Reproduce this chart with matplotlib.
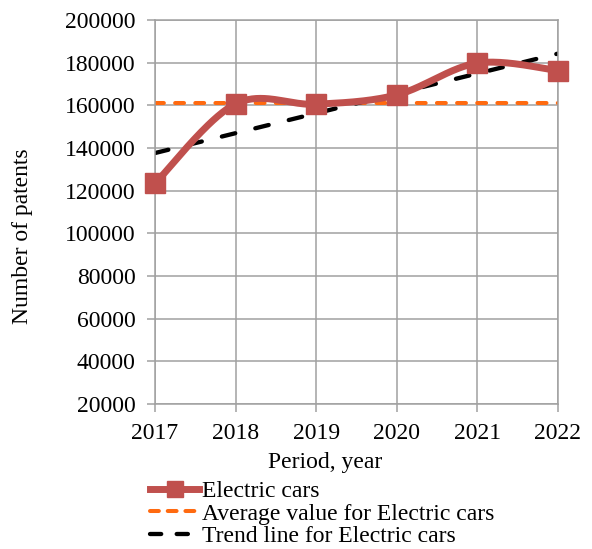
import numpy as np
import matplotlib
matplotlib.use('Agg')
import matplotlib.pyplot as plt
from matplotlib.lines import Line2D

plt.rcParams['font.family'] = ['Liberation Serif', 'DejaVu Serif']

# data
years = [2017, 2018, 2019, 2020, 2021, 2022]
patents = [123400, 160700, 160500, 164900, 179800, 176300]
labels = ['Electric cars', 'Average value for Electric cars', 'Trend line for Electric cars']

x = np.array(years, dtype=float)
y = np.array(patents, dtype=float)

# average and linear trend
avg = y.mean()
k, b = np.polyfit(x, y, 1)

# smoothed curve like excel (bezier through points)
def smooth(px, py, n=40):
    P = np.column_stack([px, py])
    P = np.vstack([P[0], P, P[-1]])
    out = []
    for i in range(1, len(P) - 2):
        p0, p1, p2, p3 = P[i - 1], P[i], P[i + 1], P[i + 2]
        c1 = p1 + (p2 - p0) / 6
        c2 = p2 - (p3 - p1) / 6
        t = np.linspace(0, 1, n)[:, None]
        seg = (1 - t) ** 3 * p1 + 3 * (1 - t) ** 2 * t * c1 + 3 * (1 - t) * t ** 2 * c2 + t ** 3 * p2
        out.append(seg)
    out = np.vstack(out)
    return out[:, 0], out[:, 1]

sx, sy = smooth(x, y)

fig = plt.figure(figsize=(5.92, 5.49), dpi=100)
ax = fig.add_axes([0.2618, 0.2641, 0.6807, 0.6995])

red = '#C0504D'
orange = '#FF6A10'
ax.plot(sx, sy, color=red, lw=5, zorder=3, clip_on=False, solid_capstyle='round')
ax.plot(x, y, ls='none', marker='s', ms=14, color=red, zorder=4, clip_on=False)
ax.plot([x[0], x[-1]], [avg, avg], color=orange, lw=2.9, ls=(0, (2.2, 2.8)),
        dash_capstyle='round', zorder=2)
ax.plot(x, k * x + b, color='black', lw=3.1, ls=(0, (3.2, 4.8)),
        dash_capstyle='round', zorder=2)

ax.set_xlim(2017, 2022)
ax.set_ylim(20000, 200000)
ax.set_yticks(np.arange(20000, 200001, 20000))
ax.set_xticks(years)
ax.grid(True, color='#A0A0A0', lw=1.1)
for s in ax.spines.values():
    s.set_color('#A0A0A0')
    s.set_linewidth(1.1)
ax.tick_params(colors='#A0A0A0', labelcolor='black', labelsize=17, length=6, width=1.1, pad=8)
ax.set_xlabel('Period, year', fontsize=17)
ax.set_ylabel('Number of patents', fontsize=17)
ax.xaxis.set_label_coords(0.422, -0.125)
ax.yaxis.set_label_coords(-0.303, 0.437)

h1 = Line2D([], [], color=red, lw=5, marker='s', ms=11)
h2 = Line2D([], [], color=orange, lw=2.9, ls=(0, (2.2, 2.2)), dash_capstyle='round')
h3 = Line2D([], [], color='black', lw=3.1, ls=(0, (2.6, 3.6)), dash_capstyle='round')
fig.legend([h1, h2, h3], labels,
           loc='upper left', bbox_to_anchor=(0.253, 0.125), frameon=False, fontsize=17,
           handlelength=2.1, handletextpad=0.1, labelspacing=0.05, borderpad=0,
           borderaxespad=0)

fig.savefig('out.png', dpi=100)
